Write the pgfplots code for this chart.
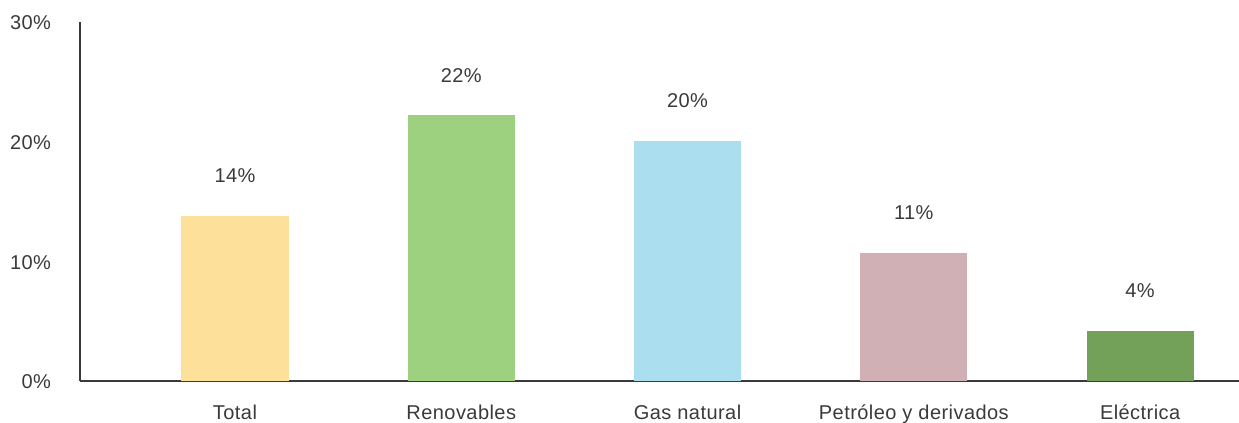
\documentclass[border=0pt]{standalone}
\usepackage{pgfplots}
\pgfplotsset{compat=1.18}
\usepackage{fontspec}
\setmainfont[LetterSpace=2.2]{Liberation Sans}

\definecolor{txt}{HTML}{3A3A3A}
\definecolor{cTotal}{HTML}{FDE09A}
\definecolor{cRenov}{HTML}{9DD07F}
\definecolor{cGas}{HTML}{ABDFF0}
\definecolor{cPetro}{HTML}{D0AFB5}
\definecolor{cElec}{HTML}{73A15A}

\begin{document}
\begin{tikzpicture}[font=\fontsize{10}{12}\selectfont\color{txt}]
\path[use as bounding box] (-40pt,-21pt) rectangle (579.5pt,190.5pt);
\begin{axis}[
  at={(0,0)}, anchor=south west,
  scale only axis,
  width=579.5pt, height=179.5pt,
  xmin=-0.685, xmax=4.437,
  ymin=0, ymax=30,
  axis lines*=left,
  axis line style={draw=txt, line width=1pt, -},
  xtick={0,1,2,3,4},
  xticklabels={Total, Renovables, Gas natural, Petróleo y derivados, Eléctrica},
  ytick={0,10,20,30},
  yticklabel={\pgfmathprintnumber{\tick}\%},
  /pgf/number format/assume math mode=true,
  major tick length=0pt,
  tick style={draw=none},
  yticklabel style={xshift=-11pt, yshift=-0.5pt, text=txt},
  xticklabel style={yshift=-8.5pt, text=txt},
  ybar, bar width=53.5pt, bar shift=0pt,
  nodes near coords={\pgfmathprintnumber[fixed,precision=0]{\pgfplotspointmeta}\%},
  nodes near coords style={anchor=center, yshift=20pt, text=txt},
  clip=false,
]
\addplot[fill=cTotal, draw=none] coordinates {(0,13.8)};
\addplot[fill=cRenov, draw=none] coordinates {(1,22.2)};
\addplot[fill=cGas,   draw=none] coordinates {(2,20.05)};
\addplot[fill=cPetro, draw=none] coordinates {(3,10.7)};
\addplot[fill=cElec,  draw=none] coordinates {(4,4.2)};
\end{axis}
\end{tikzpicture}
\end{document}
